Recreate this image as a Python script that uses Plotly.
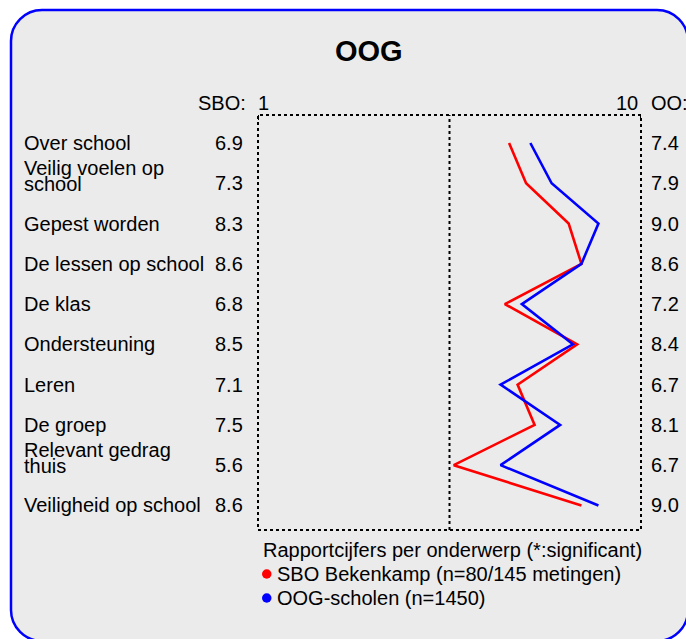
import plotly.graph_objects as go

# ---- data ----
topics = ["Over school", "Veilig voelen op<br>school", "Gepest worden", "De lessen op school",
          "De klas", "Ondersteuning", "Leren", "De groep", "Relevant gedrag<br>thuis",
          "Veiligheid op school"]
sbo_values = [6.9, 7.3, 8.3, 8.6, 6.8, 8.5, 7.1, 7.5, 5.6, 8.6]
oog_values = [7.4, 7.9, 9.0, 8.6, 7.2, 8.4, 6.7, 8.1, 6.7, 9.0]
series_names = ["SBO Bekenkamp (n=80/145 metingen)", "OOG-scholen (n=1450)"]
series_colors = ["#ff0000", "#0000ff"]
title = "OOG"
scale_min, scale_max, scale_mid = 1, 10, 5.5

# ---- layout geometry (pixels) ----
W, H = 686, 639
L, R, T, B = 258, 641, 115, 530
FONT = "Liberation Sans, Arial, sans-serif"


def px(x):
    return (x - L) / (R - L)


def py(y):
    return (B - y) / (B - T)


rows = list(range(len(topics)))
fig = go.Figure()
fig.add_trace(go.Scatter(x=sbo_values, y=rows, mode="lines", name=series_names[0],
                         line=dict(color=series_colors[0], width=2.6), showlegend=False,
                         hoverinfo="skip"))
fig.add_trace(go.Scatter(x=oog_values, y=rows, mode="lines", name=series_names[1],
                         line=dict(color=series_colors[1], width=2.6), showlegend=False,
                         hoverinfo="skip"))

shapes = []
# rounded background panel
x0, x1, y0, y1, r = 11, 688, 10, 641, 31
k = 0.5523 * r
path = (f"M {px(x0)},{py(y0 + r)} "
        f"C {px(x0)},{py(y0 + r - k)} {px(x0 + r - k)},{py(y0)} {px(x0 + r)},{py(y0)} "
        f"L {px(x1 - r)},{py(y0)} "
        f"C {px(x1 - r + k)},{py(y0)} {px(x1)},{py(y0 + r - k)} {px(x1)},{py(y0 + r)} "
        f"L {px(x1)},{py(y1 - r)} "
        f"C {px(x1)},{py(y1 - r + k)} {px(x1 - r + k)},{py(y1)} {px(x1 - r)},{py(y1)} "
        f"L {px(x0 + r)},{py(y1)} "
        f"C {px(x0 + r - k)},{py(y1)} {px(x0)},{py(y1 - r + k)} {px(x0)},{py(y1 - r)} Z")
shapes.append(dict(type="path", xref="paper", yref="paper", path=path, layer="below",
                   fillcolor="#ebebeb", line=dict(color="#0000ff", width=2.5)))
# dotted frame
shapes.append(dict(type="rect", xref="paper", yref="paper", x0=0, x1=1, y0=0, y1=1,
                   line=dict(color="black", width=2, dash="dot")))
shapes.append(dict(type="line", xref="x", yref="paper", x0=scale_mid, x1=scale_mid, y0=0, y1=1,
                   line=dict(color="black", width=2, dash="dot")))
# small ticks at 1 and 10
for xv in (scale_min, scale_max):
    shapes.append(dict(type="line", xref="x", yref="paper", x0=xv, x1=xv, y0=1, y1=py(T + 5),
                       line=dict(color="black", width=2)))
# legend dots
for i, c in enumerate(series_colors):
    cy = 574 + 24 * i
    shapes.append(dict(type="circle", xref="paper", yref="paper",
                       x0=px(262), x1=px(271.5), y0=py(cy + 4.75), y1=py(cy - 4.75),
                       fillcolor=c, line=dict(width=0)))

ann = []
fs = 20
twoline_offset = 0.38
for i, t in enumerate(topics):
    parts = t.split("<br>")
    if len(parts) == 1:
        ann.append(dict(x=px(22), y=i, xref="paper", yref="y", text=t, xanchor="left",
                        yanchor="middle", showarrow=False, font=dict(size=fs)))
    else:
        ann.append(dict(x=px(22), y=i - twoline_offset, xref="paper", yref="y", text=parts[0],
                        xanchor="left", yanchor="middle", showarrow=False, font=dict(size=fs)))
        ann.append(dict(x=px(22), y=i + 0.02, xref="paper", yref="y", text=parts[1],
                        xanchor="left", yanchor="middle", showarrow=False, font=dict(size=fs)))
    ann.append(dict(x=px(245), y=i, xref="paper", yref="y", text=f"{sbo_values[i]:.1f}",
                    xanchor="right", yanchor="middle", showarrow=False, font=dict(size=fs)))
    ann.append(dict(x=px(649), y=i, xref="paper", yref="y", text=f"{oog_values[i]:.1f}",
                    xanchor="left", yanchor="middle", showarrow=False, font=dict(size=fs)))

# header texts
ann.append(dict(x=px(369), y=py(51), xref="paper", yref="paper", text=f"<b>{title}</b>",
                xanchor="center", yanchor="middle", showarrow=False, font=dict(size=29)))
ann.append(dict(x=px(248), y=py(103), xref="paper", yref="paper", text="SBO:",
                xanchor="right", yanchor="middle", showarrow=False, font=dict(size=fs)))
ann.append(dict(x=px(256), y=py(103), xref="paper", yref="paper", text=str(scale_min),
                xanchor="left", yanchor="middle", showarrow=False, font=dict(size=fs)))
ann.append(dict(x=px(640), y=py(103), xref="paper", yref="paper", text=str(scale_max),
                xanchor="right", yanchor="middle", showarrow=False, font=dict(size=fs)))
ann.append(dict(x=px(649), y=py(103), xref="paper", yref="paper", text="OO:",
                xanchor="left", yanchor="middle", showarrow=False, font=dict(size=fs)))

# legend texts
ann.append(dict(x=px(261), y=py(550), xref="paper", yref="paper",
                text="Rapportcijfers per onderwerp (*:significant)",
                xanchor="left", yanchor="middle", showarrow=False, font=dict(size=fs)))
for i, n in enumerate(series_names):
    ann.append(dict(x=px(275), y=py(574 + 24 * i), xref="paper", yref="paper", text=n,
                    xanchor="left", yanchor="middle", showarrow=False, font=dict(size=fs)))

fig.update_layout(
    width=W, height=H,
    margin=dict(l=L, r=W - R, t=T, b=H - B, pad=0),
    paper_bgcolor="white", plot_bgcolor="rgba(0,0,0,0)",
    font=dict(family=FONT, color="black"),
    xaxis=dict(range=[scale_min, scale_max], visible=False, fixedrange=True),
    yaxis=dict(range=[9.61, -0.695], visible=False, fixedrange=True),
    shapes=shapes, annotations=ann, showlegend=False,
)
fig.write_html("out.html", config={"displayModeBar": False},
               post_script="document.body.style.margin='0';document.body.style.overflow='hidden';")
